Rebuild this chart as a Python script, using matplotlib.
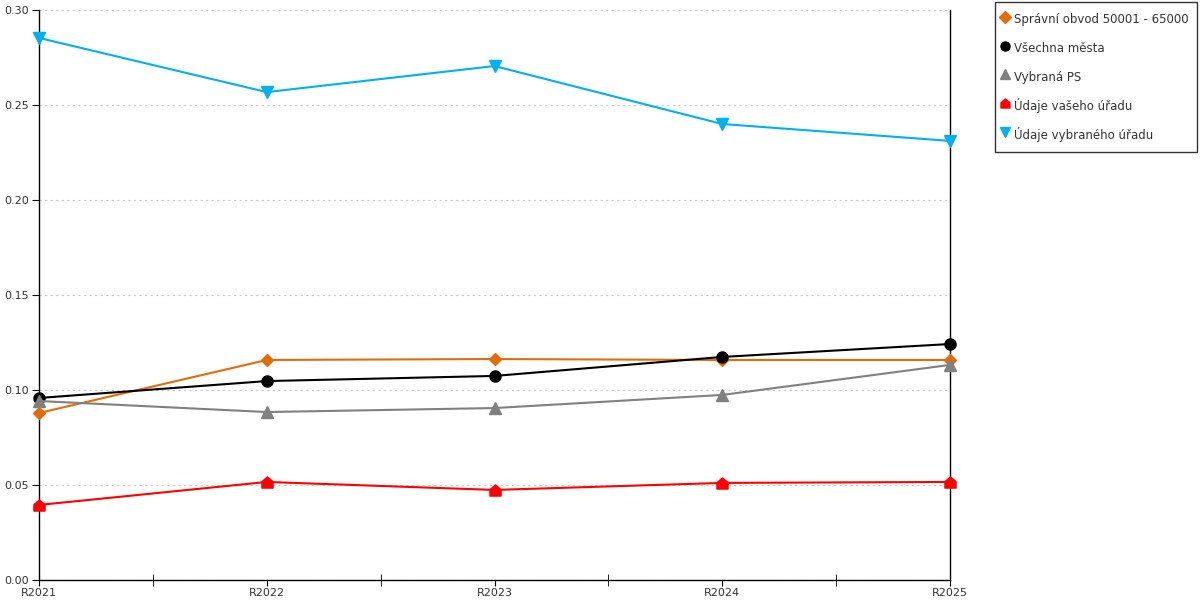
import matplotlib
matplotlib.use('Agg')
import matplotlib.pyplot as plt
from matplotlib.path import Path
from matplotlib.ticker import MultipleLocator, FixedLocator

years = ['R2021', 'R2022', 'R2023', 'R2024', 'R2025']

spravni_obvod = [0.0879, 0.1158, 0.1163, 0.1158, 0.1158]
vsechna_mesta = [0.0958, 0.1047, 0.1074, 0.1174, 0.1242]
vybrana_ps = [0.0942, 0.0884, 0.0905, 0.0974, 0.1132]
vas_urad = [0.0395, 0.0516, 0.0474, 0.0511, 0.0516]
vybrany_urad = [0.2853, 0.2568, 0.2705, 0.2400, 0.2311]

series_names = ['Správní obvod 50001 - 65000', 'Všechna města', 'Vybraná PS',
                'Údaje vašeho úřadu', 'Údaje vybraného úřadu']

# house-shaped marker for "vaseho uradu"
house = Path([(-1, -1), (1, -1), (1, 0.15), (0, 1), (-1, 0.15), (-1, -1)],
             [Path.MOVETO, Path.LINETO, Path.LINETO, Path.LINETO, Path.LINETO, Path.CLOSEPOLY])

styles = [
    ('#E36C0A', 'D', 6.5),
    ('#000000', 'o', 8),
    ('#808080', '^', 8),
    ('#FF0000', house, 8),
    ('#00B0F0', 'v', 8),
]

plt.rcParams['font.family'] = 'DejaVu Sans'
plt.rcParams['text.color'] = '#333333'
plt.rcParams['xtick.labelcolor'] = '#333333'
plt.rcParams['ytick.labelcolor'] = '#333333'
fig = plt.figure(figsize=(12, 6), dpi=100)
ax = fig.add_axes([39 / 1200, 20 / 600, (950 - 39) / 1200, 570 / 600])

x = list(range(len(years)))
all_vals = [spravni_obvod, vsechna_mesta, vybrana_ps, vas_urad, vybrany_urad]
for vals, name, (c, m, ms) in zip(all_vals, series_names, styles):
    ax.plot(x, vals, color=c, marker=m, markersize=ms, linewidth=1.5,
            label=name, clip_on=False, zorder=3)

ax.set_xlim(0, 4)
ax.set_ylim(0, 0.30)
ax.set_xticks(x)
ax.set_xticklabels(years)
ax.xaxis.set_minor_locator(FixedLocator([0.5, 1.5, 2.5, 3.5]))
ax.yaxis.set_major_locator(MultipleLocator(0.05))
ax.yaxis.set_major_formatter(matplotlib.ticker.FormatStrFormatter('%.2f'))
ax.tick_params(axis='x', which='major', direction='out', length=4, labelsize=8, pad=2, color='#000000')
ax.tick_params(axis='x', which='minor', direction='inout', length=8, color='#000000')
ax.tick_params(axis='y', which='major', direction='out', length=5, labelsize=8, pad=2)
ax.grid(True, axis='y', linestyle=(0, (2, 3)), color='#c8c8c8', linewidth=0.8)
ax.set_axisbelow(True)
ax.spines['top'].set_visible(False)
for s in ['left', 'right', 'bottom']:
    ax.spines[s].set_linewidth(1.0)
    ax.spines[s].set_color('#000000')

leg = fig.legend(loc='upper left', bbox_to_anchor=(995 / 1200, 1 - 2 / 600),
                 fontsize=8.5, frameon=True, fancybox=False, edgecolor='#000000',
                 handlelength=0.3, handleheight=2.0, handletextpad=0.65,
                 labelspacing=0.9, borderpad=0.7, borderaxespad=0)
leg.get_frame().set_linewidth(1.0)
for h in leg.legend_handles:
    h.set_linestyle('none')
    h.set_markersize(6.5)

fig.savefig('out.png', dpi=100)
